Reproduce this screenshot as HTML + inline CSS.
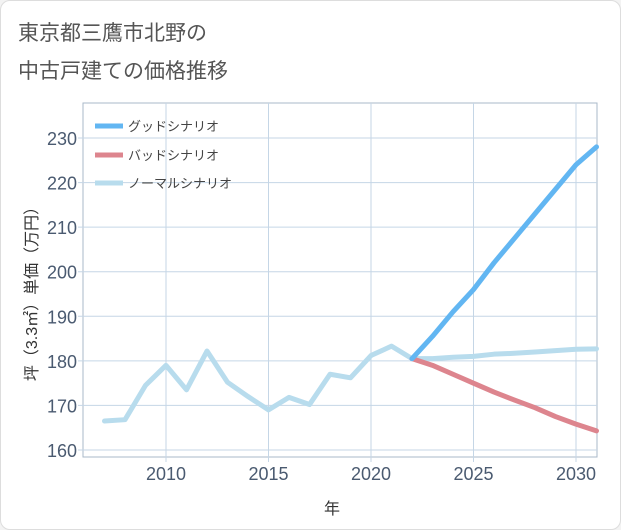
<!DOCTYPE html>
<html><head><meta charset="utf-8"><style>
body{margin:0;background:#f3f3f3;font-family:"Liberation Sans","Noto Sans CJK JP",sans-serif}
#card{position:absolute;left:0;top:0;width:619px;height:528px;background:#fff;border:1px solid #ddd;border-radius:10px}
</style></head><body>
<div id="card">
<svg width="621" height="530" style="position:absolute;left:-1px;top:-1px" id="chart">
<text x="18" y="40" font-size="21" fill="#555">東京都三鷹市北野の</text>
<text x="18" y="78" font-size="21" fill="#555">中古戸建ての価格推移</text>
<g id="grid"></g><g id="axes"></g><g id="series"></g><g id="legend"></g>
<text x="332" y="514" font-size="16" fill="#333" text-anchor="middle">年</text>
<text transform="translate(37,290) rotate(-90)" font-size="16" fill="#333" text-anchor="middle">坪（3.3㎡）単価（万円）</text>
</svg></div>
<script>
const years=[2007,2008,2009,2010,2011,2012,2013,2014,2015,2016,2017,2018,2019,2020,2021,2022];
const normalHist=[166.5,166.8,174.5,179,173.5,182.2,175.2,172,169,171.8,170.2,177,176.2,181.2,183.3,180.5];
const futYears=[2022,2023,2024,2025,2026,2027,2028,2029,2030,2031];
const good=[180.5,185.5,191,196,202,207.5,213,218.5,224,228];
const bad=[180.5,179,177,175,173,171.2,169.5,167.5,165.8,164.3];
const normalFut=[180.5,180.5,180.8,181,181.5,181.7,182,182.3,182.6,182.7];
const yTicks=[160,170,180,190,200,210,220,230];
const xTicks=[2010,2015,2020,2025,2030];
const L=83,R=597,T=103,B=457;
const xs=y=>166+(y-2010)*20.5;
const ys=v=>450-(v-160)*4.457;
const NS="http://www.w3.org/2000/svg";
function mk(p,tag,a){const e=document.createElementNS(NS,tag);for(const k in a)e.setAttribute(k,a[k]);p.appendChild(e);return e;}
const grid=document.getElementById('grid'),axes=document.getElementById('axes'),ser=document.getElementById('series'),leg=document.getElementById('legend');
const fr=mk(grid,'rect',{x:L,y:T,width:R-L,height:B-T,fill:'none',stroke:'#aab8c8','stroke-width':1});


yTicks.forEach(v=>{
 const l=mk(grid,'line',{x1:L-5,x2:R,y1:ys(v),y2:ys(v),stroke:'#c5d6e6','stroke-width':1});
 
 
 const t=mk(axes,'text',{x:L-6,y:ys(v)+7,'font-size':18,fill:'#4a5a70','text-anchor':'end'});t.textContent=v;
 
 
});
xTicks.forEach(v=>{
 const l=mk(grid,'line',{x1:xs(v),x2:xs(v),y1:T,y2:B+5,stroke:'#c5d6e6','stroke-width':1});
 
 
 const t=mk(axes,'text',{x:xs(v),y:B+23,'font-size':18,fill:'#4a5a70','text-anchor':'middle'});t.textContent=v;
 
 
});
function line(xa,va,col,name){
 const p=mk(ser,'polyline',{points:xa.map((x,i)=>xs(x)+','+ys(va[i])).join(' '),fill:'none',stroke:col,'stroke-width':5,'stroke-linejoin':'round','stroke-linecap':'round'});
 
 
}
line(years,normalHist,'#b8dced','normal-history-line');
line(futYears,normalFut,'#b8dced','normal-scenario-line');
line(futYears,bad,'#dd858e','bad-scenario-line');
line(futYears,good,'#62b6f2','good-scenario-line');
[['グッドシナリオ','#62b6f2',126,'legend-good'],['バッドシナリオ','#dd858e',155,'legend-bad'],['ノーマルシナリオ','#b8dced',183,'legend-normal']].forEach(d=>{
 const g=mk(leg,'g',{});
 
 
 mk(g,'line',{x1:95,x2:123,y1:d[2],y2:d[2],stroke:d[1],'stroke-width':5});
 const t=mk(g,'text',{x:128,y:d[2]+5,'font-size':13,fill:'#444'});t.textContent=d[0];
});
</script></body></html>
